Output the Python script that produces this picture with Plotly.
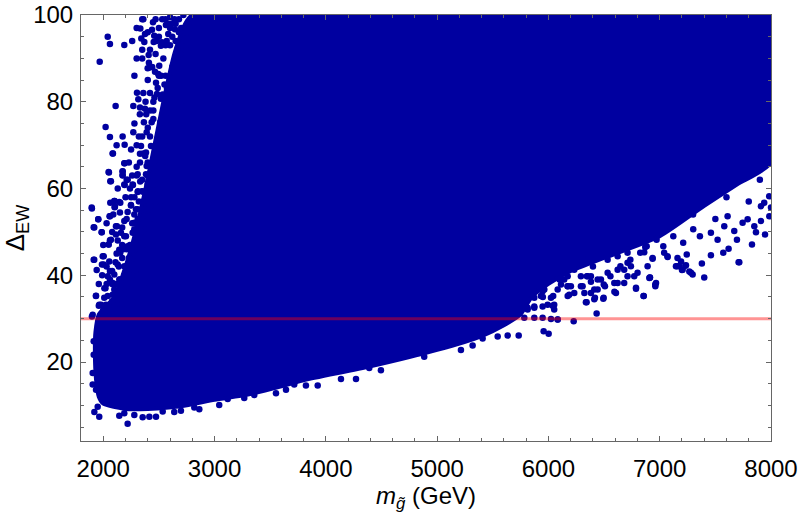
import plotly.graph_objects as go

# gluino mass (GeV) vs Delta_EW
# solid core of the scan: outline of the region that is fully covered by points
CORE_X = [2800, 8000, 8000, 7700, 7400, 7000, 6500, 6200, 6000, 5850, 5750,
          5600, 5400, 5000, 4400, 3800, 3600, 3300, 3000, 2700, 2400, 2200,
          2000, 1960, 1935, 1925, 1930, 1960, 2100, 2200, 2290, 2380, 2460,
          2540, 2650, 2800]
CORE_Y = [100, 100, 66, 61, 56, 49, 44, 41, 38, 35, 31,
          28.5, 26, 22.8, 19, 15.8, 14.4, 12.5, 11.3, 9.8, 9.2, 9.2,
          10.4, 12, 16, 22, 27, 31, 35, 42, 50, 60, 70,
          80, 92, 100]

# scattered points around the edges of the core
EDGE_X = [
    # upper left fringe
    2040, 2060, 2189, 1968, 2111, 2021, 2060, 2174, 2120, 2192, 2087, 2192,
    2051, 2174, 2174, 2069, 2192, 2267, 2312, 2348, 1898, 2102, 2153, 2102,
    2060, 1955, 1919, 1986, 2114, 2114, 2060, 2048, 1914, 2004, 1988, 1941,
    2249, 2294, 2368,
    2303, 2315, 2330, 2375, 2329, 2365, 2435, 2386, 2512,
    2333, 2375, 2369, 2453, 2342, 2408, 2399, 2417, 2465, 2503, 2494,
    2447, 2438, 2458, 2518, 2527, 2584, 2563, 2588, 2644, 2668,
    2474, 2489, 2483, 2534, 2518, 2572, 2584, 2608, 2608,
    2339, 2359, 2377, 2429, 2422, 2390, 2440,
    2503, 2539, 2584, 2608,
    2219, 2279, 2294, 2354, 2279, 2189, 2144,
    2438, 2414, 2458, 2384,
    2620, 2680, 2720, 2760, 2600, 2650, 2700, 2740, 2620, 2680, 2560, 2620,
    2660, 2700, 2560, 2600, 2540, 2650, 2480, 2530, 2470, 2600, 2450, 2420,
    2440, 2540, 2560, 2500, 2470, 2420, 2800, 2780,
    2280, 2300, 2260, 2350, 2400, 2320, 2280, 2360, 2420, 2250, 2230, 2300,
    2390, 2460, 2410, 2350, 2270, 2210, 2250, 2330, 2480, 2520, 2440, 2400,
    2360, 2500, 2540, 2470, 2430, 2400, 2700, 2660, 2610, 2570, 2640, 2600,
    2350, 2400, 2450, 2300, 2270, 2330, 2460, 2490, 2420, 2380,
    2450, 2550, 2500, 2560, 2620, 2680, 2500, 2470, 2530, 2600, 2650, 2700,
    2750, 2720, 2350, 2400, 2360, 2300,
    # left band, y 30..70
    2084, 2189, 2174, 2174, 2048, 2063, 2309, 2384, 2414, 2384,
    2189, 2264, 2332, 2309, 2354,
    1896, 2099, 2144, 2063, 2105, 2150, 2249, 2309, 2368,
    1955, 2057, 1914, 1986, 2123, 2159, 2204, 2264, 2189, 2279,
    2069, 2048, 2153, 2219, 2279, 2309, 2249, 2189, 2129, 2054, 1995, 1919,
    2004,
    2040, 2099, 2084, 2144, 2189, 2234, 2159, 2219, 2099, 2040, 1934, 1964,
    2024, 2099, 2159, 2084, 2009, 2189, 2249, 1905,
    2399, 2458, 2489, 2429, 2399, 2368, 2339, 2309, 2399, 2429, 2458, 2518,
    2548, 2518, 2489, 2579, 2593, 2339, 2399, 2324, 2279,
    2120, 2170, 2210, 2080, 2140, 2230, 2190, 2110, 2160, 2060, 2130, 2200,
    2020, 2080, 2240, 2000, 1960, 2030,
    1960, 1990, 2010, 2060, 2110, 2170, 2230, 2260, 2030, 2080, 2150, 2200,
    2000, 2080, 2130, 2170, 2210, 2240, 2260, 2310, 2340, 2180, 2030, 2090,
    2200, 2240, 2280, 2320, 2350, 2260, 2300, 2220, 2130, 2400,
    # lower edge and left edge below the line
    1920, 1964, 1950, 2219, 2144, 2189, 2279, 2354, 2414, 2474, 2534, 2638,
    2698, 2818, 2863, 3042, 3118, 3267, 3357, 3552, 3642, 3716,
    1898, 1914, 1914, 1905, 1905, 1935, 1935, 1980, 2009, 2084, 2054, 2129,
    4495, 3821, 3927, 4136, 4271, 4390, 4884, 5214, 5319, 5409, 5544, 5634,
    5733, 5957, 6002, 6083, 6227,
    # lower right fringe
    5873, 5948, 6043, 5993, 6052, 6052, 5873, 5813, 6343, 6412, 6433, 6307,
    6382, 6346, 6173, 6187,
    6496, 6418, 6855, 6787, 6912, 6960, 6936, 6861, 6870, 7071, 7155, 7192,
    6607, 6592, 6681, 6508, 6442, 6382, 6292, 6352, 6472, 6532, 6622, 6681,
    6741, 6771, 6711,
    6173, 6202, 6113, 6023, 6038, 5948, 5873, 5813, 5873, 5963, 5933, 6083,
    6142, 6232, 6292, 6352, 6442, 6532, 6622, 6711,
    5783, 5873, 5948, 6023, 6083, 5693, 5753, 5633, 5573,
    7709, 7379, 7400, 7296, 7266, 7200, 7146, 7230, 6967, 6961, 6907, 6856,
    6787, 6493, 6337, 6593, 6912, 6936, 7070, 7160, 7243, 7175, 7206, 7236,
    7281, 7460, 7571, 7619, 7715, 7829, 7910, 7946, 7865, 7694, 7985, 8000,
    7460, 7520, 7580, 7670, 7745, 7790, 7850, 7910, 7939, 7984, 7610, 7361,
    7301, 7211, 7122, 7032, 6972, 6883, 6825, 6736, 6647, 6557, 6497, 6412,
    6323, 6232, 6173, 6173, 6292, 6382, 6442, 6622, 6711, 6801, 6891, 7040,
    7000, 7300, 7600, 7900, 6700, 6400, 6100, 5950, 7800, 7500,
]
EDGE_Y = [
    # upper left fringe
    95.0, 93.3, 93.1, 89.2, 79.0, 74.2, 71.9, 72.0, 70.0, 70.1, 68.1, 65.8,
    63.7, 63.9, 63.1, 61.7, 60.8, 60.8, 59.4, 59.4, 55.4, 57.1, 56.7, 55.7,
    53.6, 52.9, 51.0, 49.9, 51.3, 49.4, 48.1, 47.1, 43.6, 44.4, 42.5, 41.2,
    56.2, 55.2, 55.3,
    82.1, 80.6, 78.7, 78.4, 77.1, 75.3, 75.3, 77.1, 75.3,
    96.9, 95.6, 93.8, 93.8, 94.6, 90.8, 87.7, 87.9, 86.9, 88.3, 86.4,
    98.3, 96.6, 95.2, 92.9, 93.7, 95.6, 97.7, 97.9, 96.7, 92.3,
    84.4, 83.2, 81.8, 81.7, 80.7, 83.2, 83.9, 85.4, 80.6,
    69.8, 68.1, 67.5, 69.8, 65.6, 65.2, 65.3,
    72.5, 72.1, 73.6, 74.4,
    54.6, 54.0, 52.1, 52.9, 50.6, 49.0, 45.9,
    61.3, 59.8, 58.2, 56.7,
    98, 99, 96, 98, 93, 94, 91, 93, 88, 84, 86, 82,
    79, 80, 78, 76, 72, 72, 70, 68, 66, 70, 78, 82,
    88, 90, 99, 97, 91, 72, 99.5, 97,
    86, 90, 94, 99, 85, 72, 75, 82, 92, 69, 66, 63,
    73, 81, 89, 92, 79, 62, 58, 66, 94, 86, 63, 61,
    57, 61, 70, 59, 56, 55, 93, 88, 84, 94, 99, 97,
    72, 74, 76, 70, 73, 68, 68, 71, 78, 80,
    80, 84, 86, 93, 95, 96, 95, 99, 99, 99.5, 98, 97,
    96, 100, 90, 96, 99, 97,
    # left band, y 30..70
    68.1, 65.8, 64.0, 63.0, 63.8, 61.7, 63.3, 63.3, 65.6, 68.3,
    60.9, 60.9, 61.6, 59.2, 59.3,
    55.6, 57.1, 56.9, 56.7, 55.8, 54.5, 56.1, 55.2, 55.2,
    52.9, 53.6, 51.1, 49.9, 51.3, 49.8, 49.0, 49.8, 52.5, 52.1,
    48.2, 47.1, 45.2, 46.7, 45.9, 47.5, 43.6, 42.1, 42.5, 43.2, 44.4, 43.6,
    42.5,
    39.8, 40.2, 38.2, 39.0, 39.8, 38.2, 36.7, 35.9, 36.7, 35.2, 35.2, 33.2,
    33.2, 33.2, 33.6, 31.7, 31.3, 32.1, 32.8, 30.9,
    66.0, 62.9, 59.8, 57.5, 53.6, 50.6, 48.2, 44.4, 45.9, 49.0, 52.9, 55.9,
    59.0, 62.1, 65.2, 66.0, 61.7, 41.3, 38.2, 35.9, 33.6,
    45, 47, 46, 41, 42, 44, 40, 38, 37, 39, 34.5, 36,
    37, 34, 40, 32, 33, 38,
    38, 40, 37, 41, 43, 44, 42, 40, 42, 38, 39, 40,
    47, 50, 48, 51, 53, 47, 52, 53, 50, 46, 52, 54,
    58, 60, 58, 57, 62, 63, 65, 62, 60, 63,
    # lower edge and left edge below the line
    8.5, 7.4, 9.7, 5.8, 7.6, 8.2, 7.8, 7.3, 7.4, 7.4, 8.6, 8.5,
    8.8, 9.5, 9.1, 10.1, 11.5, 11.7, 12.4, 12.8, 13.6, 14.8,
    30.5, 24.8, 21.7, 17.5, 14.8, 13.6, 35.3, 33.2, 34.8, 35.5, 31.7, 31.7,
    18.1, 14.6, 14.6, 16.1, 16.1, 18.6, 21.2, 22.8, 23.8, 25.4, 25.9, 26.1,
    26.1, 27.1, 26.5, 29.8, 29.4,
    # lower right fringe
    36.3, 36.3, 35.2, 33.2, 33.2, 32.1, 32.5, 32.1, 33.8, 34.5, 31.2, 37.5,
    38.5, 39.8, 37.5, 35.5,
    34.8, 34.8, 35.2, 37.1, 39.5, 37.9, 43.8, 45.3, 46.5, 44.2, 42.1, 43.2,
    35.9, 38.2, 38.2, 37.5, 36.7, 35.9, 37.5, 39.8, 39.0, 40.6, 41.3, 41.3,
    42.1, 39.8, 42.9,
    35.2, 37.5, 37.9, 34.8, 33.0, 32.8, 32.8, 32.5, 34.8, 36.7, 35.2, 36.7,
    39.0, 41.3, 42.9, 43.6, 44.4, 43.6, 44.4, 45.2,
    30.2, 30.2, 30.2, 29.9, 29.8, 32.1, 33.6, 31.3, 30.5,
    43.0, 42.7, 39.5, 40.2, 40.9, 41.2, 42.1, 42.2, 38.2, 37.5, 39.4, 35.2,
    36.9, 34.6, 33.8, 36.2, 39.5, 44.0, 44.4, 44.0, 44.8, 42.1, 41.3, 42.3,
    40.6, 44.6, 45.2, 46.1, 43.0, 47.1, 52.5, 49.4, 49.9, 48.2, 53.6, 55.6,
    49.8, 48.2, 51.3, 50.2, 52.1, 52.9, 51.3, 55.9, 56.7, 58.2, 53.6, 49.0,
    50.6, 47.5, 49.0, 46.7, 48.2, 46.7, 45.2, 43.6, 42.1, 39.8, 37.9, 36.7,
    35.9, 35.9, 37.5, 39.8, 39.8, 39.8, 39.0, 38.2, 39.8, 40.6, 42.1, 45.2,
    50, 54, 58, 62, 46, 42, 39, 35, 57, 53,
]

THRESHOLD = 30
X_RANGE = [1800, 8000]
Y_RANGE = [1.8, 100]

NAVY = "#0000a0"
FONT = "Liberation Sans, Arial, sans-serif"

fig = go.Figure()

# dense core as a filled outline
fig.add_trace(go.Scatter(
    x=CORE_X, y=CORE_Y,
    mode="lines",
    fill="toself",
    fillcolor=NAVY,
    line=dict(color=NAVY, width=4, shape="spline", smoothing=0.6),
    hoverinfo="skip",
    showlegend=False,
))

# the sparse points at the edges
fig.add_trace(go.Scatter(
    x=EDGE_X, y=EDGE_Y,
    mode="markers",
    marker=dict(size=6.5, color=NAVY),
    showlegend=False,
))

# Delta_EW = 30 line, drawn semi-transparent on top
fig.add_trace(go.Scatter(
    x=X_RANGE, y=[THRESHOLD, THRESHOLD],
    mode="lines",
    line=dict(color="rgba(255,0,0,0.42)", width=3),
    hoverinfo="skip",
    showlegend=False,
))

axis_style = dict(
    showgrid=False,
    zeroline=False,
    showline=True,
    linecolor="#666666",
    linewidth=1,
    mirror="allticks",
    ticks="inside",
    ticklen=5,
    tickcolor="#666666",
    automargin=False,
    tickfont=dict(family=FONT, size=24, color="black"),
)

fig.update_layout(
    width=800,
    height=517,
    plot_bgcolor="white",
    paper_bgcolor="white",
    margin=dict(l=81, r=29, t=15, b=76),
    font=dict(family=FONT, color="black"),
    xaxis=dict(
        range=X_RANGE,
        tickvals=[2000, 3000, 4000, 5000, 6000, 7000, 8000],
        minor=dict(dtick=200, ticks="inside", ticklen=3, tickcolor="#666666"),
        title=dict(text="<i>m</i><sub><i>g̃</i></sub> (GeV)", font=dict(size=24), standoff=0),
        ticklabelstandoff=6,
        **axis_style,
    ),
    yaxis=dict(
        range=Y_RANGE,
        tickvals=[20, 40, 60, 80, 100],
        minor=dict(dtick=5, tick0=0, ticks="inside", ticklen=3, tickcolor="#666666"),
        title=dict(text="Δ<sub>EW</sub>", font=dict(size=26), standoff=12),
        ticklabelstandoff=2,
        **axis_style,
    ),
)

# drop the default body margin so the 800x517 figure fills the window exactly
fig.write_html(
    "out.html",
    config={"displayModeBar": False},
    post_script="document.body.style.margin = '0';",
)
